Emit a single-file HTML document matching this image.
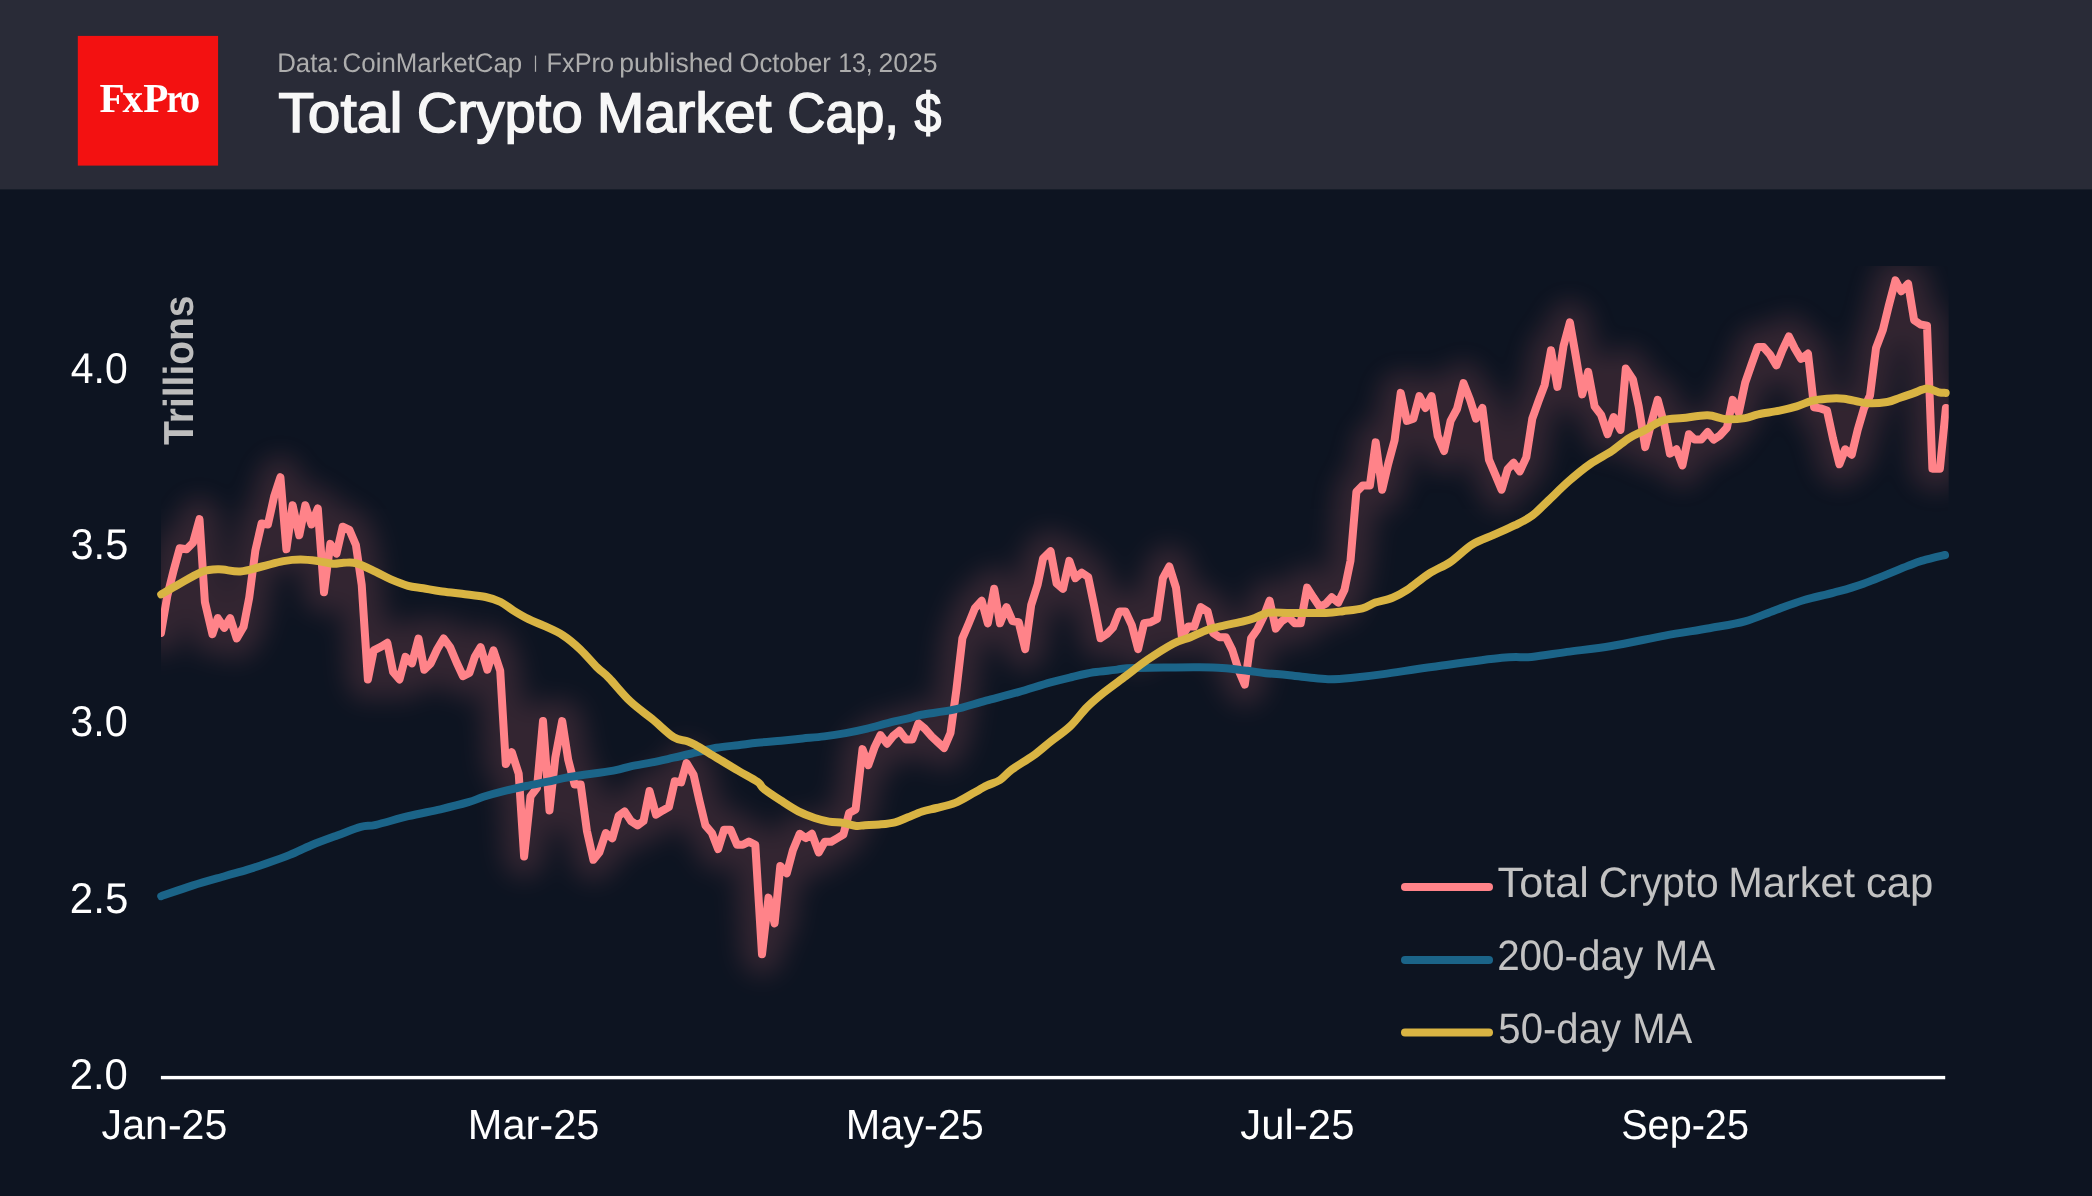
<!DOCTYPE html>
<html><head><meta charset="utf-8"><title>Total Crypto Market Cap</title>
<style>
html,body{margin:0;padding:0;background:#0d1421;}
body{width:2092px;height:1196px;overflow:hidden;font-family:"Liberation Sans",sans-serif;}
svg{display:block}
text{font-family:"Liberation Sans",sans-serif;text-rendering:geometricPrecision;}
.serif{font-family:"Liberation Serif",serif;}
</style></head><body>
<svg width="2092" height="1196" viewBox="0 0 2092 1196">
<defs>
<filter id="glow" x="-5%" y="-20%" width="110%" height="140%" color-interpolation-filters="sRGB"><feGaussianBlur stdDeviation="13"/></filter>
<clipPath id="plot"><rect x="161" y="266" width="1787.7" height="812"/></clipPath>
</defs>
<rect x="0" y="0" width="2092" height="1196" fill="#0d1421"/>
<rect x="0" y="0" width="2092" height="189.4" fill="#292b37"/>
<rect x="77.8" y="35.9" width="140.3" height="129.7" fill="#f31111"/>
<g opacity="0.999">
<text class="serif" y="111.9" font-size="41.1" fill="#ffffff" font-weight="bold"><tspan x="99.6 122.5 143.2">FxP</tspan><tspan x="166.5" textLength="16.05" lengthAdjust="spacingAndGlyphs">r</tspan><tspan x="179.8">o</tspan></text>
<text y="72.40" font-size="27" fill="#adadad"><tspan x="277.25" textLength="61.64" lengthAdjust="spacingAndGlyphs">Data:</tspan> <tspan x="342.60" textLength="179.61" lengthAdjust="spacingAndGlyphs">CoinMarketCap</tspan> <tspan x="546.59" textLength="67.48" lengthAdjust="spacingAndGlyphs">FxPro</tspan> <tspan x="619.36" textLength="113.60" lengthAdjust="spacingAndGlyphs">published</tspan> <tspan x="739.55" textLength="91.37" lengthAdjust="spacingAndGlyphs">October</tspan> <tspan x="838.13" textLength="34.54" lengthAdjust="spacingAndGlyphs">13,</tspan> <tspan x="878.40" textLength="59.24" lengthAdjust="spacingAndGlyphs">2025</tspan></text>
<text y="132.20" font-size="56" fill="#f7f7f7" stroke="#f7f7f7" stroke-width="1.4" stroke-linejoin="miter"><tspan x="278.36" textLength="124.21" lengthAdjust="spacingAndGlyphs">Total</tspan> <tspan x="416.81" textLength="165.96" lengthAdjust="spacingAndGlyphs">Crypto</tspan> <tspan x="596.88" textLength="174.75" lengthAdjust="spacingAndGlyphs">Market</tspan> <tspan x="787.33" textLength="111.72" lengthAdjust="spacingAndGlyphs">Cap,</tspan> <tspan x="914.39" textLength="26.90" lengthAdjust="spacingAndGlyphs">$</tspan></text>
<text y="897.20" font-size="42.5" fill="#c2c2c2"><tspan x="1497.56" textLength="91.39" lengthAdjust="spacingAndGlyphs">Total</tspan> <tspan x="1598.73" textLength="119.98" lengthAdjust="spacingAndGlyphs">Crypto</tspan> <tspan x="1728.30" textLength="126.82" lengthAdjust="spacingAndGlyphs">Market</tspan> <tspan x="1865.96" textLength="67.44" lengthAdjust="spacingAndGlyphs">cap</tspan></text>
<text x="70.77" y="382.80" font-size="43" fill="#ffffff" textLength="56.87" lengthAdjust="spacingAndGlyphs">4.0</text>
<text x="70.47" y="559.40" font-size="43" fill="#ffffff" textLength="57.88" lengthAdjust="spacingAndGlyphs">3.5</text>
<text x="70.36" y="736.00" font-size="43" fill="#ffffff" textLength="57.53" lengthAdjust="spacingAndGlyphs">3.0</text>
<text x="69.81" y="912.60" font-size="43" fill="#ffffff" textLength="58.49" lengthAdjust="spacingAndGlyphs">2.5</text>
<text x="69.66" y="1089.20" font-size="43" fill="#ffffff" textLength="58.14" lengthAdjust="spacingAndGlyphs">2.0</text>
<text x="101.62" y="1139.30" font-size="42" fill="#ffffff" textLength="125.71" lengthAdjust="spacingAndGlyphs">Jan-25</text>
<text x="467.84" y="1139.30" font-size="42" fill="#ffffff" textLength="131.53" lengthAdjust="spacingAndGlyphs">Mar-25</text>
<text x="845.85" y="1139.30" font-size="42" fill="#ffffff" textLength="138.03" lengthAdjust="spacingAndGlyphs">May-25</text>
<text x="1240.27" y="1139.30" font-size="42" fill="#ffffff" textLength="114.22" lengthAdjust="spacingAndGlyphs">Jul-25</text>
<text x="1621.17" y="1139.30" font-size="42" fill="#ffffff" textLength="127.80" lengthAdjust="spacingAndGlyphs">Sep-25</text>
<text x="1497.13" y="970.40" font-size="42.5" fill="#c2c2c2" textLength="218.10" lengthAdjust="spacingAndGlyphs">200-day MA</text>
<text x="1498.37" y="1043.20" font-size="42.5" fill="#c2c2c2" textLength="193.93" lengthAdjust="spacingAndGlyphs">50-day MA</text>
<rect x="534.9" y="55.6" width="1.2" height="16.2" fill="#adadad"/>
<g transform="translate(193,444.90) rotate(-90)"><text x="0.00" y="0.00" font-size="42" fill="#bdbdbd" font-weight="bold" textLength="149.40" lengthAdjust="spacingAndGlyphs">Trillions</text></g>
</g>
<g clip-path="url(#plot)">
<path d="M161 632.9 L167.3 595.9 L173.5 571 L179.7 548.2 L186.6 549.3 L193 542.8 L199.5 519.2 L204.9 602 L212.4 634.2 L217.8 618.1 L224.2 627.8 L230.2 618.1 L236.7 638.5 L243.6 626.7 L249.2 597.7 L255.4 550.3 L261.6 523.5 L267.9 524.5 L274.1 496.6 L280.4 477.2 L286.4 549.3 L292.6 505.2 L299.3 535.3 L305.3 505.2 L311.5 524.5 L317.8 508.4 L324 592.3 L330.3 543.9 L336.5 553.6 L342.7 526.7 L349.4 529.9 L355.9 545 L361.7 584.8 L367.9 679.4 L373.7 650.4 L381.2 646.7 L387.3 642.8 L393.1 671.9 L399.5 679.4 L405.5 656.8 L412 663.3 L418.5 638.5 L424.3 669.7 L430.7 663.3 L437.2 649.3 L443.6 638.5 L450.1 647.1 L456.5 662.2 L463 676.2 L469.4 673 L474.8 656.8 L480.6 647.1 L487.3 669.7 L493.5 650.4 L500.2 670.8 L505.8 764.1 L511.8 752.3 L518.7 773.8 L524.1 856.6 L530.5 796.4 L537 787.8 L543 721.1 L549.5 810.4 L555.3 757.7 L562.2 721.1 L568.2 759.8 L574.6 784.6 L580.7 784.6 L586.9 830.8 L593.4 859.8 L599.4 852.3 L605.8 833 L612.3 838.3 L618.7 815.7 L624.6 811.4 L631 821.1 L637.5 825.4 L643.5 821.1 L649.5 791 L656 814.7 L662.8 810.4 L668.9 807.1 L674.7 781.3 L681.1 782.4 L686.5 763 L693.6 774.9 L699.4 800.7 L705.4 825.4 L711.9 833 L718.1 849.1 L724.1 829.7 L730.6 829.7 L737.1 844.8 L742.9 844.8 L748.9 841.6 L755.3 844.8 L762 954.2 L768.5 897.6 L774.6 923.4 L780.3 866 L786.8 873.2 L792.9 850.3 L799.7 833.8 L805.7 838.1 L811.9 833.8 L818.7 852.4 L824.8 841.7 L831.2 841.7 L837.4 838.1 L843.4 834.5 L849.1 813 L855.6 809.4 L862.5 749.1 L868.3 765.2 L874.7 746.9 L880.5 735.1 L887 743.7 L893 736.2 L899.5 730.8 L905.9 739.4 L912.4 739.4 L918.4 723.3 L924.8 728.6 L931.8 736.6 L937.6 742 L944.1 748 L950.5 733 L956.4 689.9 L962.4 638.3 L968.8 623.3 L974.9 608.2 L981.7 600.7 L987.8 623.3 L994.2 588.8 L1000 623.3 L1006.5 607.1 L1012.5 621.1 L1018.7 622.2 L1025.2 649.1 L1031.2 605 L1037.7 584.5 L1043 558.7 L1050.6 551.2 L1056.6 583.5 L1063 588.8 L1069.3 560.9 L1075.3 578.1 L1081.8 572.7 L1088.2 577 L1094.2 606 L1100.5 638.3 L1106.9 634 L1113 627.6 L1119.4 611.4 L1125.4 611.4 L1131.9 625.4 L1138.1 649.1 L1144.1 623.3 L1150.6 622.2 L1157.1 618.9 L1162.9 578.1 L1169.3 566.5 L1176 587.8 L1181.8 636.2 L1188.2 626.5 L1194.3 626.5 L1200.7 607.1 L1207.6 611.4 L1213 632.9 L1219.4 637.2 L1225.9 637.2 L1232.3 650.1 L1238.8 670.6 L1244.8 684.6 L1251.1 638.3 L1257.1 629.7 L1263.5 616.8 L1269.6 600.7 L1275.8 628.6 L1281.8 621.1 L1288.3 616.8 L1294.7 623.3 L1300.7 623.3 L1307.1 587.6 L1313.3 597.3 L1319.8 606.9 L1325.8 603.7 L1331.8 597.3 L1338.3 602.6 L1344.5 589.7 L1350.5 560.7 L1356.4 491.9 L1362.8 485.4 L1369.9 485.4 L1375.7 442.4 L1382.2 489.7 L1388.2 463.9 L1394.6 440.2 L1400.7 392.9 L1406.9 420.9 L1413.4 418.7 L1419.4 396.1 L1425.4 408 L1431.6 396.1 L1437.7 435.9 L1444.1 451 L1450.6 420.9 L1457 409 L1463.5 383.2 L1469.9 399.4 L1476 418.7 L1482.4 408 L1488.9 459.6 L1495.3 474.6 L1501.6 489.7 L1507.6 469.3 L1513.6 462.8 L1519.8 471.4 L1526.3 457.4 L1532.3 418.7 L1538.8 400.4 L1544.7 384.8 L1551 350.3 L1557.4 386.9 L1563.5 346 L1569.9 322.4 L1575.9 356.8 L1582.2 394.4 L1588.2 371.9 L1594.6 406.3 L1601.1 414.9 L1607.6 434.2 L1613.6 417 L1620.5 429.9 L1625.8 368.6 L1632.9 379.4 L1638.7 406.3 L1645.2 447.1 L1651.2 423.5 L1657.7 399.8 L1664.1 423.5 L1669.9 453.6 L1676.4 449.3 L1682.4 465.4 L1688.9 434.2 L1694.7 439.6 L1701.1 439.6 L1707.6 432.1 L1713.6 439.6 L1720.1 435.3 L1726.9 427.8 L1732.7 399.8 L1738.8 412.7 L1745.2 382.6 L1751.2 365.4 L1757.7 347.1 L1763.5 347.1 L1770 354.6 L1776.4 365.4 L1782.4 350.3 L1788.9 336.4 L1794.7 348.2 L1801.1 358.9 L1808 353.6 L1814.1 407.3 L1820.5 408.4 L1827 410.6 L1833 438.5 L1839.4 464.3 L1845.2 449.3 L1851.7 454.7 L1857.7 429.9 L1864 408.4 L1870 395.5 L1876 348.2 L1882.9 329.9 L1888.9 305.2 L1895.4 280.4 L1901.2 291.2 L1908.1 283.7 L1914.1 320.2 L1920.5 324.5 L1927 325.6 L1932.4 468.7 L1939.9 468.7 L1945.9 408" fill="none" stroke="#ff8389" stroke-width="42" stroke-linejoin="round" stroke-linecap="round" filter="url(#glow)" opacity="0.155"/>
</g>
<path d="M161 632.9 L167.3 595.9 L173.5 571 L179.7 548.2 L186.6 549.3 L193 542.8 L199.5 519.2 L204.9 602 L212.4 634.2 L217.8 618.1 L224.2 627.8 L230.2 618.1 L236.7 638.5 L243.6 626.7 L249.2 597.7 L255.4 550.3 L261.6 523.5 L267.9 524.5 L274.1 496.6 L280.4 477.2 L286.4 549.3 L292.6 505.2 L299.3 535.3 L305.3 505.2 L311.5 524.5 L317.8 508.4 L324 592.3 L330.3 543.9 L336.5 553.6 L342.7 526.7 L349.4 529.9 L355.9 545 L361.7 584.8 L367.9 679.4 L373.7 650.4 L381.2 646.7 L387.3 642.8 L393.1 671.9 L399.5 679.4 L405.5 656.8 L412 663.3 L418.5 638.5 L424.3 669.7 L430.7 663.3 L437.2 649.3 L443.6 638.5 L450.1 647.1 L456.5 662.2 L463 676.2 L469.4 673 L474.8 656.8 L480.6 647.1 L487.3 669.7 L493.5 650.4 L500.2 670.8 L505.8 764.1 L511.8 752.3 L518.7 773.8 L524.1 856.6 L530.5 796.4 L537 787.8 L543 721.1 L549.5 810.4 L555.3 757.7 L562.2 721.1 L568.2 759.8 L574.6 784.6 L580.7 784.6 L586.9 830.8 L593.4 859.8 L599.4 852.3 L605.8 833 L612.3 838.3 L618.7 815.7 L624.6 811.4 L631 821.1 L637.5 825.4 L643.5 821.1 L649.5 791 L656 814.7 L662.8 810.4 L668.9 807.1 L674.7 781.3 L681.1 782.4 L686.5 763 L693.6 774.9 L699.4 800.7 L705.4 825.4 L711.9 833 L718.1 849.1 L724.1 829.7 L730.6 829.7 L737.1 844.8 L742.9 844.8 L748.9 841.6 L755.3 844.8 L762 954.2 L768.5 897.6 L774.6 923.4 L780.3 866 L786.8 873.2 L792.9 850.3 L799.7 833.8 L805.7 838.1 L811.9 833.8 L818.7 852.4 L824.8 841.7 L831.2 841.7 L837.4 838.1 L843.4 834.5 L849.1 813 L855.6 809.4 L862.5 749.1 L868.3 765.2 L874.7 746.9 L880.5 735.1 L887 743.7 L893 736.2 L899.5 730.8 L905.9 739.4 L912.4 739.4 L918.4 723.3 L924.8 728.6 L931.8 736.6 L937.6 742 L944.1 748 L950.5 733 L956.4 689.9 L962.4 638.3 L968.8 623.3 L974.9 608.2 L981.7 600.7 L987.8 623.3 L994.2 588.8 L1000 623.3 L1006.5 607.1 L1012.5 621.1 L1018.7 622.2 L1025.2 649.1 L1031.2 605 L1037.7 584.5 L1043 558.7 L1050.6 551.2 L1056.6 583.5 L1063 588.8 L1069.3 560.9 L1075.3 578.1 L1081.8 572.7 L1088.2 577 L1094.2 606 L1100.5 638.3 L1106.9 634 L1113 627.6 L1119.4 611.4 L1125.4 611.4 L1131.9 625.4 L1138.1 649.1 L1144.1 623.3 L1150.6 622.2 L1157.1 618.9 L1162.9 578.1 L1169.3 566.5 L1176 587.8 L1181.8 636.2 L1188.2 626.5 L1194.3 626.5 L1200.7 607.1 L1207.6 611.4 L1213 632.9 L1219.4 637.2 L1225.9 637.2 L1232.3 650.1 L1238.8 670.6 L1244.8 684.6 L1251.1 638.3 L1257.1 629.7 L1263.5 616.8 L1269.6 600.7 L1275.8 628.6 L1281.8 621.1 L1288.3 616.8 L1294.7 623.3 L1300.7 623.3 L1307.1 587.6 L1313.3 597.3 L1319.8 606.9 L1325.8 603.7 L1331.8 597.3 L1338.3 602.6 L1344.5 589.7 L1350.5 560.7 L1356.4 491.9 L1362.8 485.4 L1369.9 485.4 L1375.7 442.4 L1382.2 489.7 L1388.2 463.9 L1394.6 440.2 L1400.7 392.9 L1406.9 420.9 L1413.4 418.7 L1419.4 396.1 L1425.4 408 L1431.6 396.1 L1437.7 435.9 L1444.1 451 L1450.6 420.9 L1457 409 L1463.5 383.2 L1469.9 399.4 L1476 418.7 L1482.4 408 L1488.9 459.6 L1495.3 474.6 L1501.6 489.7 L1507.6 469.3 L1513.6 462.8 L1519.8 471.4 L1526.3 457.4 L1532.3 418.7 L1538.8 400.4 L1544.7 384.8 L1551 350.3 L1557.4 386.9 L1563.5 346 L1569.9 322.4 L1575.9 356.8 L1582.2 394.4 L1588.2 371.9 L1594.6 406.3 L1601.1 414.9 L1607.6 434.2 L1613.6 417 L1620.5 429.9 L1625.8 368.6 L1632.9 379.4 L1638.7 406.3 L1645.2 447.1 L1651.2 423.5 L1657.7 399.8 L1664.1 423.5 L1669.9 453.6 L1676.4 449.3 L1682.4 465.4 L1688.9 434.2 L1694.7 439.6 L1701.1 439.6 L1707.6 432.1 L1713.6 439.6 L1720.1 435.3 L1726.9 427.8 L1732.7 399.8 L1738.8 412.7 L1745.2 382.6 L1751.2 365.4 L1757.7 347.1 L1763.5 347.1 L1770 354.6 L1776.4 365.4 L1782.4 350.3 L1788.9 336.4 L1794.7 348.2 L1801.1 358.9 L1808 353.6 L1814.1 407.3 L1820.5 408.4 L1827 410.6 L1833 438.5 L1839.4 464.3 L1845.2 449.3 L1851.7 454.7 L1857.7 429.9 L1864 408.4 L1870 395.5 L1876 348.2 L1882.9 329.9 L1888.9 305.2 L1895.4 280.4 L1901.2 291.2 L1908.1 283.7 L1914.1 320.2 L1920.5 324.5 L1927 325.6 L1932.4 468.7 L1939.9 468.7 L1945.9 408" fill="none" stroke="#ff8389" stroke-width="8" stroke-linejoin="round" stroke-linecap="round" clip-path="url(#plot)"/>
<path d="M161.2 896.2 C166.5 894.4 182.3 888.8 193 885.4 C203.7 882.0 216.3 878.6 225.3 876 C234.3 873.4 240.0 872.0 246.8 869.9 C253.6 867.8 259.0 866.0 266.2 863.5 C273.4 861.0 282.3 857.9 289.8 854.9 C297.3 851.9 303.4 848.4 311.3 845.2 C319.2 842.0 328.9 838.5 337.1 835.5 C345.4 832.5 354.3 828.7 360.8 826.9 C367.3 825.1 368.0 826.6 375.9 824.8 C383.8 823.0 397.4 818.8 408.1 816.2 C418.9 813.6 430.3 811.6 440.4 809.3 C450.4 807.0 461.2 804.3 468.4 802.2 C475.6 800.1 477.7 798.6 483.4 796.8 C489.1 795.0 495.6 793.2 502.8 791.4 C510.0 789.6 518.9 787.6 526.4 786 C533.9 784.4 540.7 783.2 547.9 781.7 C555.1 780.2 558.6 778.9 569.5 777 C580.4 775.1 603.2 772.4 613.4 770.6 C623.6 768.8 624.1 767.7 630.6 766.3 C637.1 764.9 644.9 763.8 652.1 762.4 C659.3 761.0 666.4 759.3 673.6 757.7 C680.8 756.1 687.9 754.4 695.1 752.7 C702.3 751.1 709.4 749.0 716.6 747.8 C723.8 746.5 731.3 746.0 738.1 745.2 C744.9 744.4 750.3 743.5 757.5 742.8 C764.7 742.0 773.6 741.4 781.1 740.7 C788.6 740.0 795.5 739.2 802.7 738.5 C809.9 737.8 817.0 737.3 824.2 736.4 C831.4 735.5 838.5 734.4 845.7 733.1 C852.9 731.8 860.0 730.3 867.2 728.6 C874.4 726.9 881.5 724.6 888.7 722.8 C895.9 721.0 904.7 719.2 910.2 717.9 C915.7 716.5 914.2 716.1 921.5 714.7 C928.8 713.3 943.0 712.0 953.8 709.7 C964.5 707.4 975.2 703.6 986 700.7 C996.8 697.8 1007.5 695.2 1018.3 692.1 C1029.1 689.0 1041.6 684.9 1050.6 682.4 C1059.6 679.9 1064.9 678.7 1072.1 677 C1079.3 675.3 1086.4 673.5 1093.6 672.3 C1100.8 671.1 1109.6 670.6 1115.1 669.9 C1120.6 669.2 1118.6 668.6 1126.7 668.2 C1134.8 667.8 1151.8 667.8 1163.5 667.6 C1175.2 667.5 1187.0 667.2 1196.8 667.3 C1206.5 667.4 1213.6 667.4 1222 668 C1230.4 668.6 1240.1 669.9 1247.4 670.8 C1254.7 671.7 1259.1 672.5 1265.7 673.2 C1272.3 673.9 1280.0 674.2 1287.2 674.9 C1294.4 675.6 1301.9 676.8 1308.7 677.5 C1315.5 678.2 1321.1 679.1 1328.1 679.2 C1335.1 679.3 1341.5 678.9 1350.7 678 C1359.9 677.1 1369.5 676.0 1383.3 674.1 C1397.1 672.2 1413.9 669.4 1433.7 666.7 C1453.5 664.0 1485.6 659.4 1501.9 657.8 C1518.2 656.2 1520.6 657.9 1531.5 656.9 C1542.4 655.9 1553.8 653.7 1567.1 651.9 C1580.4 650.1 1595.2 648.7 1611.5 646 C1627.8 643.3 1648.6 638.6 1664.9 635.6 C1681.2 632.6 1696.0 630.6 1709.3 628.2 C1722.6 625.8 1734.0 624.4 1744.9 621.4 C1755.8 618.4 1764.7 614.0 1774.6 610.4 C1784.5 606.8 1794.3 603.0 1804.2 600 C1814.1 597.0 1823.9 595.3 1833.8 592.6 C1843.7 589.9 1851.2 588.2 1863.5 583.7 C1875.8 579.2 1898.0 569.8 1907.9 565.9 C1917.8 562.0 1916.5 562.4 1922.7 560.6 C1928.9 558.8 1941.3 555.9 1945 555" fill="none" stroke="#1b6488" stroke-width="8" stroke-linejoin="round" stroke-linecap="round"/>
<path d="M161.2 594.4 C164.0 592.8 171.3 588.5 178 584.8 C184.7 581.0 194.8 574.5 201.6 571.9 C208.4 569.3 212.4 569.4 218.8 569.3 C225.2 569.2 233.1 571.9 240.3 571.4 C247.5 570.9 254.7 568.2 261.9 566.5 C269.1 564.8 276.9 562.2 283.4 561.1 C289.8 560.0 294.9 559.6 300.6 559.6 C306.3 559.6 312.4 560.4 317.8 561.1 C323.2 561.8 328.5 563.4 332.8 563.7 C337.1 564.0 339.7 562.9 343.6 562.8 C347.6 562.7 351.1 561.8 356.5 563.3 C361.9 564.8 370.2 569.2 375.9 571.9 C381.6 574.6 385.5 577.1 390.9 579.4 C396.3 581.7 402.7 584.3 408.1 585.8 C413.5 587.3 417.8 587.3 423.2 588.2 C428.6 589.1 433.9 590.3 440.4 591.2 C446.8 592.1 454.4 592.8 461.9 593.8 C469.4 594.8 479.2 595.6 485.6 597 C492.1 598.4 496.0 599.7 500.6 602 C505.2 604.3 508.8 607.7 513.5 610.6 C518.2 613.5 523.6 616.7 528.6 619.2 C533.6 621.7 537.9 622.9 543.6 625.6 C549.3 628.3 556.9 631.3 563 635.3 C569.1 639.2 574.5 643.9 580.2 649.3 C585.9 654.7 592.6 662.8 597.4 667.6 C602.2 672.4 603.6 672.4 609.1 678.1 C614.6 683.8 623.4 694.9 630.6 701.7 C637.8 708.5 644.9 713.0 652.1 718.9 C659.3 724.8 667.9 733.5 673.6 737.2 C679.3 740.9 682.9 739.6 686.5 740.9 C690.1 742.2 690.1 742.0 695.1 744.8 C700.1 747.6 709.4 753.4 716.6 757.7 C723.8 762.0 731.3 766.6 738.1 770.6 C744.9 774.6 753.2 778.8 757.5 781.8 C761.8 784.8 760.0 785.8 763.9 788.9 C767.8 792.0 775.4 797.0 781.1 800.7 C786.9 804.5 792.8 808.5 798.4 811.4 C804.0 814.3 809.6 816.3 814.7 818 C819.8 819.7 824.3 820.8 829.1 821.6 C833.9 822.4 838.9 822.3 843.4 823 C847.9 823.7 852.7 825.5 856.3 825.9 C859.9 826.3 861.1 825.4 864.9 825.2 C868.7 825.0 874.3 825.0 879.3 824.5 C884.3 824.0 890.2 823.5 895 822.3 C899.8 821.1 903.4 819.1 907.9 817.3 C912.4 815.5 917.5 813.0 922.3 811.5 C927.1 810.0 931.1 809.4 936.6 808 C942.1 806.6 949.3 805.3 955.3 802.9 C961.3 800.5 967.2 796.5 972.5 793.6 C977.8 790.7 982.2 788.0 986.8 785.7 C991.4 783.4 995.8 782.7 1000 780 C1004.2 777.3 1006.3 773.6 1011.9 769.5 C1017.5 765.4 1027.0 760.1 1033.4 755.5 C1039.9 750.9 1044.5 746.4 1050.6 741.6 C1056.7 736.8 1063.8 732.2 1069.9 726.5 C1076.0 720.8 1081.4 712.8 1087.1 707.1 C1092.8 701.4 1097.8 697.3 1104.3 692.1 C1110.8 686.9 1118.7 681.4 1125.9 676 C1133.1 670.6 1139.5 665.2 1147.4 659.8 C1155.3 654.4 1166.0 647.5 1173.2 643.7 C1180.4 639.9 1184.7 639.5 1190.4 637.2 C1196.1 634.9 1201.9 631.7 1207.6 629.7 C1213.3 627.7 1218.7 626.8 1224.8 625.4 C1230.9 624.0 1239.2 622.4 1244.2 621.1 C1249.2 619.9 1251.0 619.3 1254.9 617.9 C1258.8 616.5 1262.4 613.7 1267.8 612.9 C1273.2 612.1 1281.8 612.9 1287.2 612.9 C1292.6 612.9 1293.7 612.9 1300.1 612.9 C1306.5 612.9 1318.6 613.3 1325.8 613 C1333.0 612.7 1336.9 612.0 1343 611.2 C1349.1 610.4 1357.0 609.8 1362.4 608.4 C1367.8 607.0 1370.3 604.4 1375.3 602.6 C1380.3 600.8 1387.1 599.9 1392.5 597.7 C1397.9 595.6 1401.5 593.7 1407.6 589.7 C1413.7 585.7 1421.9 578.2 1429.1 573.6 C1436.3 569.0 1443.4 566.6 1450.6 561.8 C1457.8 557.0 1464.9 549.1 1472.1 544.6 C1479.3 540.1 1486.4 538.1 1493.6 534.9 C1500.8 531.7 1508.6 528.4 1515.1 525.2 C1521.5 522.0 1526.9 519.5 1532.3 515.5 C1537.7 511.6 1541.3 507.2 1547.4 501.5 C1553.5 495.8 1561.7 487.4 1568.9 481.1 C1576.1 474.8 1583.2 468.9 1590.4 463.9 C1597.6 458.9 1605.5 455.3 1611.9 451 C1618.4 446.7 1623.7 441.5 1629.1 438.1 C1634.5 434.7 1638.5 433.5 1644.2 430.5 C1649.9 427.5 1657.1 422.4 1663.5 420.3 C1669.9 418.2 1675.5 418.9 1682.8 418.1 C1690.1 417.3 1700.4 415.1 1707.6 415.3 C1714.8 415.5 1719.6 418.7 1725.9 419.2 C1732.2 419.7 1739.8 418.9 1745.2 418.1 C1750.6 417.3 1752.4 415.6 1758.1 414.4 C1763.8 413.1 1773.1 412.0 1779.6 410.6 C1786.0 409.2 1791.4 407.9 1796.8 406.3 C1802.2 404.7 1806.9 402.2 1811.9 400.9 C1816.9 399.6 1821.6 399.1 1827 398.7 C1832.4 398.3 1837.8 398.0 1844.2 398.7 C1850.7 399.4 1858.5 402.4 1865.7 403 C1872.9 403.6 1881.5 402.9 1887.2 402 C1892.9 401.1 1895.8 399.1 1900.1 397.7 C1904.4 396.3 1908.5 394.9 1913 393.4 C1917.5 391.9 1922.7 388.8 1927 388.6 C1931.3 388.4 1935.7 391.6 1938.8 392.3 C1941.9 393.0 1944.5 392.8 1945.7 392.9" fill="none" stroke="#d9b443" stroke-width="8" stroke-linejoin="round" stroke-linecap="round"/>
<rect x="160.9" y="1075.9" width="1784.3" height="3.4" fill="#ffffff"/>
<g stroke-width="8" stroke-linecap="round">
<line x1="1405" x2="1489" y1="887" y2="887" stroke="#ff8389"/>
<line x1="1405" x2="1489" y1="960" y2="960" stroke="#1b6488"/>
<line x1="1405" x2="1489" y1="1032.5" y2="1032.5" stroke="#d9b443"/>
</g>
</svg>
</body></html>
